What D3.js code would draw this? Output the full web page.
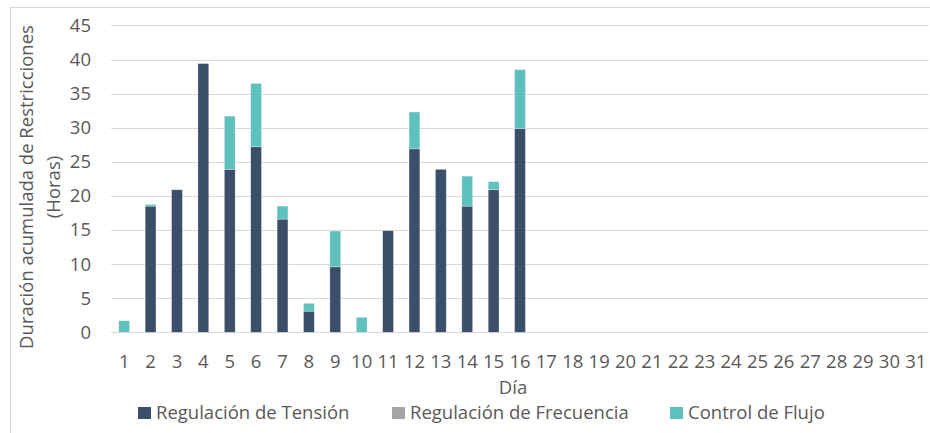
<!DOCTYPE html>
<html>
<head>
<meta charset="utf-8">
<script src="https://cdn.jsdelivr.net/npm/d3@7"></script>
<style>
  body { margin: 0; background: #fff; }
  svg { display: block; font-family: "Open Sans", sans-serif; }
</style>
</head>
<body>
<div id="chart"></div>
<script>
// Days of the month
const days = d3.range(1, 32).map(String);

// Hours per category (only the first 16 days have data)
const tension    = [0, 18.5, 20.9, 39.4, 23.9, 27.2, 16.6, 3.1, 9.6, 0, 14.9, 26.9, 23.9, 18.5, 20.9, 29.9];
const frequency  = [0, 0, 0, 0, 0, 0, 0, 0, 0, 0, 0, 0, 0, 0, 0, 0];
const flow       = [1.7, 0.25, 0, 0, 7.8, 9.3, 1.9, 1.15, 5.25, 2.2, 0, 5.4, 0, 4.4, 1.2, 8.6];

const seriesNames = ["Regulación de Tensión", "Regulación de Frecuencia", "Control de Flujo"];
const seriesColors = ["#3b4f6b", "#a5a5a5", "#5ec1be"];
const yTicks = [0, 5, 10, 15, 20, 25, 30, 35, 40, 45];

const width = 930, height = 433;
const textColor = "#595959";
const fontSize = 18.5;

const svg = d3.select("#chart").append("svg")
    .attr("width", width)
    .attr("height", height);

// Chart border
svg.append("rect")
    .attr("x", 10.5).attr("y", 7.5)
    .attr("width", width).attr("height", height)
    .attr("fill", "none")
    .attr("stroke", "#d9d9d9");

// Scales
const x = d3.scaleBand().domain(days).range([111, 929]).padding(0);
const y = d3.scaleLinear().domain([0, 45]).range([332.3, 25.4]);
const barW = x.bandwidth() * 0.41;

// Gridlines
svg.append("g")
    .selectAll("line")
    .data(yTicks)
    .join("line")
    .attr("x1", 111).attr("x2", 929)
    .attr("y1", d => Math.round(y(d)) + 0.5)
    .attr("y2", d => Math.round(y(d)) + 0.5)
    .attr("stroke", "#d9d9d9")
    .attr("stroke-width", 1);

// Y tick labels
svg.append("g")
    .selectAll("text")
    .data(yTicks)
    .join("text")
    .attr("x", 91)
    .attr("y", d => y(d))
    .attr("dy", "0.35em")
    .attr("text-anchor", "end")
    .attr("font-size", fontSize)
    .attr("fill", textColor)
    .text(d => d);

// Stacked data
const rows = tension.map((t, i) => ({ day: days[i], t: t, f: frequency[i], c: flow[i] }));
const stack = d3.stack().keys(["t", "f", "c"]);
const layers = stack(rows);

svg.append("g")
    .selectAll("g")
    .data(layers)
    .join("g")
    .attr("fill", (d, i) => seriesColors[i])
    .selectAll("rect")
    .data(d => d.filter(s => s[1] - s[0] > 0))
    .join("rect")
    .attr("x", d => x.bandwidth() / 2 + x(d.data.day) - barW / 2)
    .attr("width", barW)
    .attr("y", d => y(d[1]))
    .attr("height", d => y(d[0]) - y(d[1]))
    .attr("stroke", "rgba(255,255,255,0.5)")
    .attr("stroke-width", 0.6);

// X tick labels
svg.append("g")
    .selectAll("text")
    .data(days)
    .join("text")
    .attr("x", d => x(d) + x.bandwidth() / 2)
    .attr("y", 368)
    .attr("text-anchor", "middle")
    .attr("font-size", fontSize)
    .attr("fill", textColor)
    .text(d => d);

// Axis titles
svg.append("text")
    .attr("x", 513).attr("y", 394)
    .attr("text-anchor", "middle")
    .attr("font-size", fontSize)
    .attr("fill", textColor)
    .text("Día");

const yTitle = svg.append("text")
    .attr("transform", "translate(0,187) rotate(-90)")
    .attr("text-anchor", "middle")
    .attr("font-size", fontSize)
    .attr("fill", textColor);
yTitle.append("tspan").attr("x", 0).attr("y", 33).text("Duración acumulada de Restricciones");
yTitle.append("tspan").attr("x", 0).attr("y", 60).text("(Horas)");

// Legend
const legendX = [138, 392, 670];
const legend = svg.append("g")
    .selectAll("g")
    .data(seriesNames)
    .join("g")
    .attr("transform", (d, i) => `translate(${legendX[i]},407)`);
legend.append("rect")
    .attr("width", 13).attr("height", 12)
    .attr("fill", (d, i) => seriesColors[i]);
legend.append("text")
    .attr("x", 18).attr("y", 12)
    .attr("font-size", fontSize)
    .attr("fill", textColor)
    .text(d => d);
</script>
</body>
</html>
